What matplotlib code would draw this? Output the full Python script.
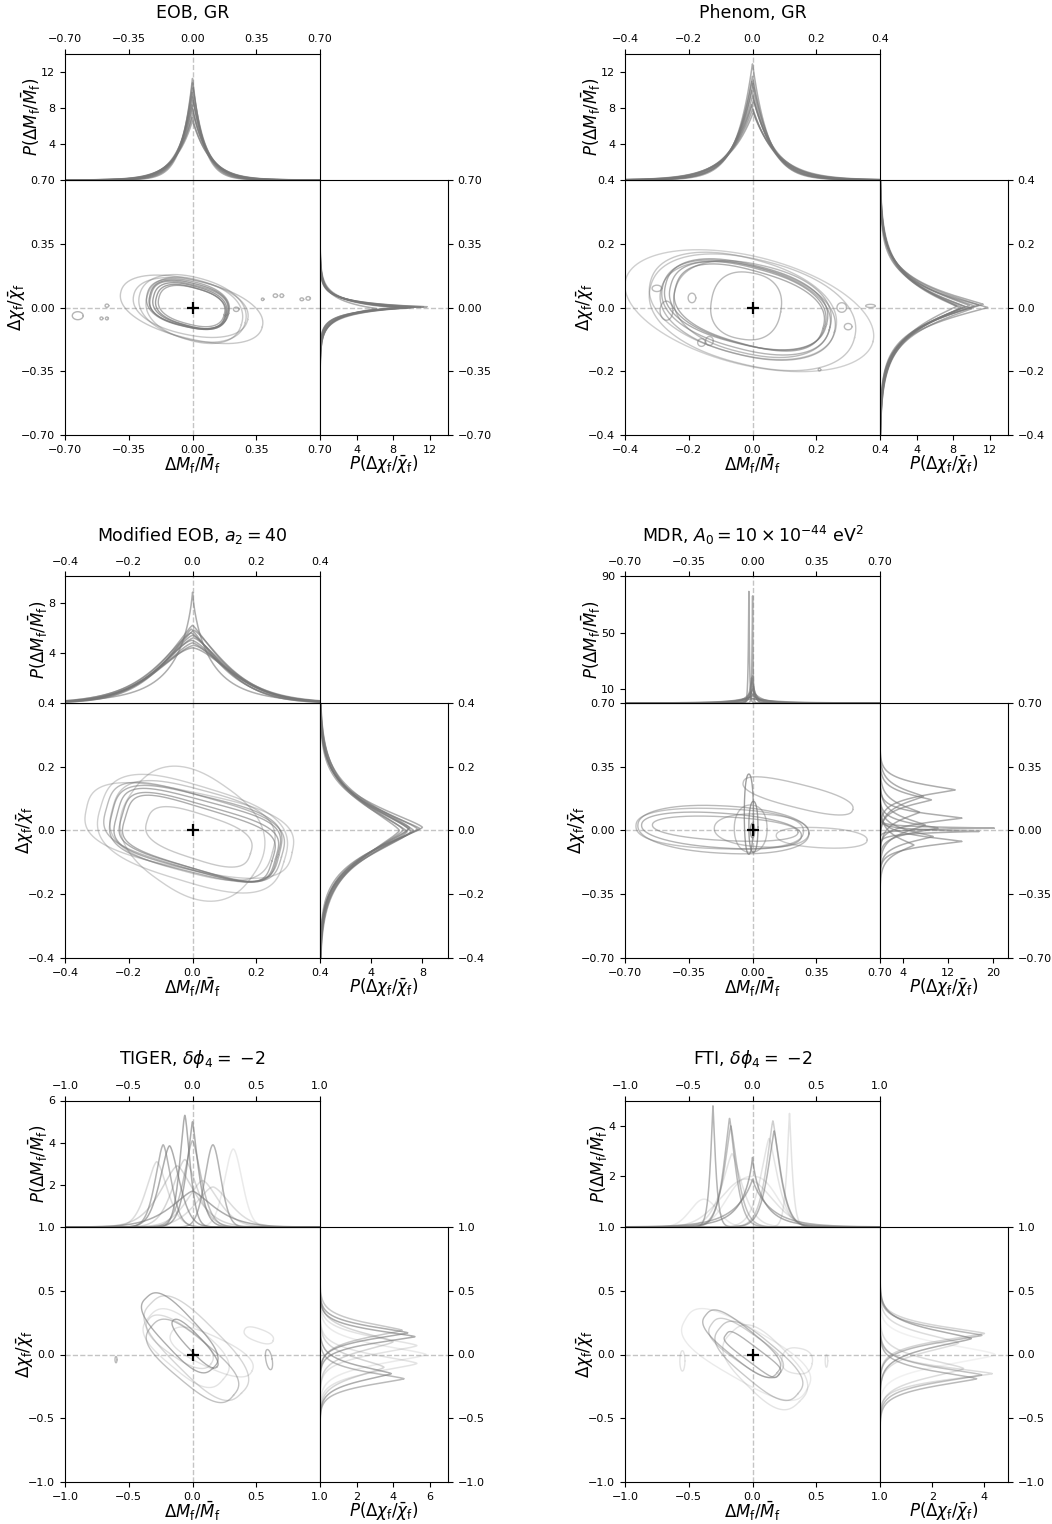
import matplotlib.pyplot as plt
import numpy as np

W, H = 1052, 1524

# ---------------- data ----------------
titles = ["EOB, GR", "Phenom, GR", r"Modified EOB, $a_2 = 40$",
          r"MDR, $A_0 = 10 \times 10^{-44}$ eV$^2$",
          r"TIGER, $\delta\phi_4 =$ $-2$", r"FTI, $\delta\phi_4 =$ $-2$"]
lims = [0.7, 0.4, 0.4, 0.7, 1.0, 1.0]
main_ticks = [[-0.7, -0.35, 0, 0.35, 0.7], [-0.4, -0.2, 0, 0.2, 0.4],
              [-0.4, -0.2, 0, 0.2, 0.4], [-0.7, -0.35, 0, 0.35, 0.7],
              [-1, -0.5, 0, 0.5, 1], [-1, -0.5, 0, 0.5, 1]]
top_ymax = [14.1, 14.1, 10.1, 90, 6, 5.0]
top_yticks = [[4, 8, 12], [4, 8, 12], [4, 8], [10, 50, 90], [2, 4, 6], [2, 4]]
right_xmax = [14, 14, 10, 22.6, 7, 4.9]
right_xticks = [[4, 8, 12], [4, 8, 12], [4, 8], [4, 12, 20], [2, 4, 6], [2, 4]]

# marginal peaks: (location, peak height, width, shape power)
eob_top = [(0.000, 11.4, 0.060, 1.0), (0.000, 10.9, 0.065, 1.0), (0.003, 10.3, 0.070, 1.0),
           (-0.003, 9.8, 0.072, 1.0), (0.000, 9.3, 0.078, 1.0), (0.004, 8.9, 0.080, 1.0),
           (-0.004, 8.4, 0.085, 1.0), (0.000, 8.0, 0.088, 1.0), (0.002, 7.5, 0.092, 1.0),
           (-0.002, 7.0, 0.095, 1.0), (0.000, 6.6, 0.100, 1.0)]
eob_right = [(0.004, 11.9, 0.028, 0.85), (0.003, 11.2, 0.030, 0.85), (0.002, 10.6, 0.032, 0.85),
             (0.000, 10.2, 0.034, 0.85), (-0.002, 9.8, 0.036, 0.85), (0.004, 11.5, 0.029, 0.85),
             (-0.004, 9.4, 0.038, 0.85), (0.001, 8.8, 0.040, 0.85), (-0.006, 6.2, 0.050, 0.95),
             (0.000, 10.0, 0.035, 0.85)]
phen_top = [(0.000, 13.0, 0.050, 1.0), (0.000, 11.6, 0.055, 1.0), (0.002, 10.8, 0.058, 1.0),
            (-0.002, 10.0, 0.062, 1.0), (0.000, 9.4, 0.066, 1.0), (0.003, 8.9, 0.070, 1.0),
            (-0.003, 8.4, 0.072, 1.0), (0.000, 7.9, 0.076, 1.0), (0.002, 7.5, 0.080, 1.0),
            (-0.002, 11.0, 0.056, 1.0)]
phen_right = [(0.010, 11.3, 0.075, 1.1), (0.008, 10.8, 0.078, 1.1), (0.005, 10.3, 0.080, 1.1),
              (0.000, 11.8, 0.072, 1.1), (0.006, 9.8, 0.083, 1.1), (0.002, 9.3, 0.086, 1.1),
              (-0.002, 8.8, 0.090, 1.1), (0.004, 8.4, 0.092, 1.1), (-0.004, 10.0, 0.082, 1.1),
              (0.000, 9.0, 0.088, 1.1)]
meob_top = [(0.000, 9.0, 0.060, 0.75), (0.000, 6.2, 0.140, 1.2), (0.005, 5.8, 0.145, 1.3),
            (-0.005, 5.6, 0.150, 1.3), (0.000, 5.4, 0.140, 1.4), (0.003, 5.2, 0.155, 1.4),
            (-0.003, 5.0, 0.150, 1.5), (0.000, 4.8, 0.160, 1.4), (0.004, 4.6, 0.165, 1.5),
            (-0.004, 5.9, 0.130, 1.2), (0.000, 4.4, 0.170, 1.6)]
meob_right = [(0.010, 8.0, 0.100, 1.3), (0.005, 7.6, 0.105, 1.3), (0.000, 7.3, 0.110, 1.3),
              (0.008, 7.0, 0.115, 1.3), (-0.004, 6.8, 0.115, 1.3), (0.002, 6.5, 0.120, 1.3),
              (0.006, 7.8, 0.100, 1.2), (-0.002, 7.1, 0.110, 1.4), (0.000, 6.2, 0.125, 1.3),
              (0.004, 6.9, 0.112, 1.35)]
mdr_top = [(-0.020, 81.0, 0.004, 1.0), (0.000, 89.0, 0.003, 1.0), (0.000, 20.0, 0.012, 1.0),
           (-0.005, 18.0, 0.015, 1.0), (0.005, 12.0, 0.020, 1.0), (0.000, 10.0, 0.030, 1.0),
           (-0.010, 8.0, 0.040, 1.0), (0.010, 7.0, 0.050, 1.0), (0.000, 5.0, 0.080, 1.0),
           (-0.020, 4.0, 0.100, 1.0), (0.000, 3.0, 0.150, 1.0)]
mdr_right = [(0.223, 13.3, 0.050, 1.2), (0.168, 9.1, 0.050, 1.2), (0.187, 7.7, 0.060, 1.2),
             (0.068, 14.5, 0.040, 1.2), (0.013, 21.2, 0.008, 1.0), (-0.005, 17.7, 0.012, 1.0),
             (0.013, 10.3, 0.040, 1.2), (-0.060, 14.5, 0.040, 1.2), (-0.033, 9.4, 0.050, 1.2),
             (0.100, 7.0, 0.060, 1.2), (0.030, 8.0, 0.060, 1.2), (-0.080, 6.0, 0.060, 1.2)]
tiger_top = [(-0.060, 5.3, 0.060, 1.5), (0.000, 5.0, 0.070, 1.3), (-0.230, 3.9, 0.090, 1.6),
             (-0.180, 3.85, 0.110, 1.6), (0.160, 3.9, 0.090, 1.8), (0.000, 4.1, 0.100, 1.5),
             (-0.060, 3.2, 0.140, 1.6), (-0.280, 3.1, 0.120, 1.6), (0.080, 2.2, 0.180, 1.6),
             (0.000, 1.7, 0.250, 1.4), (0.320, 3.7, 0.100, 1.8), (0.160, 1.9, 0.200, 1.6),
             (-0.120, 2.9, 0.200, 1.5)]
tiger_right = [(0.170, 4.8, 0.080, 1.3), (0.140, 5.2, 0.080, 1.3), (0.190, 4.5, 0.090, 1.3),
               (0.070, 5.3, 0.100, 1.4), (0.000, 5.8, 0.110, 1.4), (-0.070, 5.3, 0.100, 1.4),
               (-0.150, 3.9, 0.090, 1.3), (-0.190, 4.6, 0.080, 1.3), (0.100, 4.0, 0.110, 1.4),
               (-0.100, 3.5, 0.110, 1.4)]
fti_top = [(-0.310, 4.8, 0.030, 1.2), (-0.180, 4.3, 0.070, 1.3), (-0.170, 4.0, 0.080, 1.3),
           (0.160, 4.2, 0.080, 1.3), (0.170, 3.8, 0.080, 1.3), (0.290, 4.5, 0.030, 1.2),
           (0.000, 2.8, 0.090, 0.8), (0.000, 1.9, 0.150, 0.9), (-0.160, 2.9, 0.120, 1.4),
           (0.130, 3.5, 0.100, 1.4), (0.000, 2.0, 0.250, 2.5), (-0.380, 1.1, 0.150, 2.0),
           (-0.050, 1.9, 0.280, 2.0)]
fti_right = [(0.165, 4.0, 0.090, 1.3), (0.150, 3.9, 0.090, 1.3), (0.125, 3.5, 0.110, 1.3),
             (0.000, 4.4, 0.120, 1.5), (-0.160, 3.9, 0.090, 1.3), (-0.190, 3.7, 0.090, 1.3),
             (-0.110, 3.2, 0.110, 1.4), (0.090, 3.0, 0.110, 1.4), (-0.150, 4.3, 0.080, 1.3)]

# credible-region contours: (cx, cy, semi-axis a, semi-axis b, angle deg, squareness)
eob_cont = [(-0.020, 0.015, 0.220, 0.120, -14, 2.6), (-0.015, 0.010, 0.205, 0.110, -15, 2.6),
            (-0.025, 0.020, 0.230, 0.125, -13, 2.4), (-0.010, 0.005, 0.195, 0.105, -16, 2.6),
            (-0.020, 0.012, 0.215, 0.115, -14, 2.8), (-0.005, 0.008, 0.185, 0.100, -15, 2.5),
            (-0.005, -0.010, 0.400, 0.160, -14, 2.2), (0.000, -0.005, 0.300, 0.170, -15, 2.2),
            (0.010, -0.015, 0.270, 0.165, -17, 2.3), (-0.010, 0.000, 0.320, 0.150, -12, 2.2),
            (-0.630, -0.045, 0.030, 0.022, 0, 2), (-0.470, 0.010, 0.010, 0.009, 0, 2),
            (-0.500, -0.060, 0.008, 0.008, 0, 2), (-0.470, -0.060, 0.008, 0.008, 0, 2),
            (0.385, 0.045, 0.007, 0.007, 0, 2), (0.455, 0.065, 0.012, 0.010, 0, 2),
            (0.490, 0.065, 0.010, 0.010, 0, 2), (0.635, 0.050, 0.012, 0.010, 0, 2),
            (0.600, 0.045, 0.010, 0.008, 0, 2), (0.240, -0.010, 0.015, 0.012, 0, 2)]
phen_cont = [(-0.015, 0.005, 0.250, 0.120, -15, 2.4), (-0.020, 0.010, 0.260, 0.125, -14, 2.4),
             (-0.010, 0.000, 0.240, 0.115, -16, 2.5), (-0.020, 0.000, 0.270, 0.130, -15, 2.3),
             (0.000, -0.005, 0.250, 0.140, -13, 2.3), (-0.015, -0.010, 0.280, 0.140, -14, 2.2),
             (-0.030, 0.005, 0.300, 0.150, -15, 2.2), (0.000, -0.015, 0.330, 0.165, -14, 2.2),
             (-0.010, -0.010, 0.400, 0.170, -14, 2.0), (-0.020, 0.005, 0.110, 0.105, -10, 2.4),
             (-0.270, -0.010, 0.020, 0.030, 0, 2), (-0.190, 0.030, 0.012, 0.015, 0, 2),
             (-0.160, -0.110, 0.012, 0.012, 0, 2), (-0.135, -0.105, 0.012, 0.014, 0, 2),
             (0.280, 0.000, 0.015, 0.015, 0, 2), (0.300, -0.060, 0.012, 0.010, 0, 2),
             (0.210, -0.195, 0.004, 0.004, 0, 2), (0.370, 0.005, 0.015, 0.005, 0, 2),
             (-0.300, 0.060, 0.015, 0.010, 0, 2)]
meob_cont = [(0.015, -0.015, 0.260, 0.110, -15, 4.0), (0.020, -0.020, 0.250, 0.100, -16, 4.0),
             (0.010, -0.010, 0.270, 0.120, -14, 3.5), (0.020, -0.025, 0.240, 0.095, -17, 4.0),
             (0.000, 0.000, 0.260, 0.130, -15, 3.0), (0.000, -0.010, 0.300, 0.150, -17, 3.0),
             (-0.010, 0.000, 0.330, 0.120, -12, 3.0), (0.020, -0.020, 0.170, 0.070, -18, 3.0),
             (0.000, -0.010, 0.230, 0.180, -35, 2.5), (0.005, -0.005, 0.285, 0.115, -16, 3.5)]
mdr_cont = [(-0.160, 0.005, 0.470, 0.130, -3, 2.2), (-0.170, 0.000, 0.440, 0.095, -4, 2.2),
            (-0.150, 0.010, 0.400, 0.065, -3, 2.2), (-0.180, 0.010, 0.460, 0.110, -2, 2.4),
            (0.250, 0.190, 0.310, 0.065, -14, 2.5), (0.380, -0.040, 0.250, 0.055, -3, 2.2),
            (-0.020, 0.090, 0.025, 0.220, 0, 2.2), (0.005, 0.020, 0.025, 0.140, 0, 2.2),
            (0.000, 0.000, 0.012, 0.040, 0, 2.0), (-0.010, 0.010, 0.090, 0.130, 0, 2.2),
            (0.050, 0.000, 0.260, 0.090, -3, 2.2)]
tiger_cont = [(-0.100, 0.170, 0.380, 0.140, -47, 3.0), (0.020, 0.085, 0.250, 0.060, -47, 2.5),
              (0.030, 0.050, 0.500, 0.200, -45, 3.0), (0.000, -0.050, 0.420, 0.170, -40, 3.0),
              (0.150, 0.020, 0.350, 0.120, -25, 2.5), (0.520, 0.150, 0.120, 0.050, -20, 2.5),
              (0.600, -0.040, 0.025, 0.080, 10, 2.0), (-0.600, -0.040, 0.008, 0.025, 0, 2.0),
              (-0.050, 0.050, 0.380, 0.180, -40, 3.0), (-0.100, 0.100, 0.300, 0.120, -35, 2.5)]
fti_cont = [(-0.085, 0.085, 0.360, 0.120, -39, 3.0), (0.000, 0.000, 0.260, 0.060, -37, 4.0),
            (-0.050, 0.000, 0.550, 0.200, -30, 3.0), (0.050, -0.050, 0.400, 0.160, -40, 3.0),
            (-0.050, 0.050, 0.330, 0.120, -35, 3.0), (0.350, -0.050, 0.120, 0.100, -10, 2.5),
            (-0.550, -0.050, 0.020, 0.080, 0, 2.0), (0.580, -0.050, 0.010, 0.050, 0, 2.0),
            (0.100, -0.100, 0.380, 0.200, -45, 3.0)]

# line transparency per curve
eob_cont_alpha = [0.7, 0.7, 0.6, 0.7, 0.6, 0.6, 0.4, 0.4, 0.4, 0.4] + [0.55] * 10
phen_cont_alpha = [0.6, 0.6, 0.6, 0.55, 0.5, 0.5, 0.4, 0.4, 0.35, 0.5] + [0.5] * 9
meob_cont_alpha = [0.6, 0.6, 0.55, 0.6, 0.4, 0.35, 0.35, 0.4, 0.35, 0.5]
mdr_cont_alpha = [0.5, 0.55, 0.5, 0.45, 0.45, 0.4, 0.7, 0.7, 0.7, 0.45, 0.45]
tiger_cont_alpha = [0.6, 0.6, 0.3, 0.45, 0.2, 0.2, 0.5, 0.5, 0.2, 0.25]
fti_cont_alpha = [0.5, 0.55, 0.15, 0.4, 0.35, 0.2, 0.2, 0.2, 0.2]
tiger_top_alpha = [0.6, 0.6, 0.55, 0.6, 0.55, 0.45, 0.3, 0.25, 0.25, 0.6, 0.15, 0.25, 0.3]
tiger_right_alpha = [0.6, 0.6, 0.4, 0.2, 0.15, 0.2, 0.6, 0.5, 0.3, 0.3]
fti_top_alpha = [0.55, 0.5, 0.45, 0.35, 0.55, 0.2, 0.6, 0.55, 0.2, 0.2, 0.15, 0.15, 0.2]
fti_right_alpha = [0.3, 0.5, 0.6, 0.1, 0.45, 0.5, 0.25, 0.25, 0.25]

tops = [eob_top, phen_top, meob_top, mdr_top, tiger_top, fti_top]
rights = [eob_right, phen_right, meob_right, mdr_right, tiger_right, fti_right]
conts = [eob_cont, phen_cont, meob_cont, mdr_cont, tiger_cont, fti_cont]
top_alphas = [None, None, None, None, tiger_top_alpha, fti_top_alpha]
right_alphas = [None, None, None, None, tiger_right_alpha, fti_right_alpha]
cont_alphas = [eob_cont_alpha, phen_cont_alpha, meob_cont_alpha, mdr_cont_alpha,
               tiger_cont_alpha, fti_cont_alpha]

# ---------------- layout (pixels) ----------------
col_x = [65, 625]
row_y = [180, 703, 1227]
S = 255
TOPH = 126.5
RW = 128

xlab = r"$\Delta M_\mathrm{f}/\bar{M}_\mathrm{f}$"
ylab = r"$\Delta\chi_\mathrm{f}/\bar{\chi}_\mathrm{f}$"
ptop = r"$P(\Delta M_\mathrm{f}/\bar{M}_\mathrm{f})$"
pright = r"$P(\Delta\chi_\mathrm{f}/\bar{\chi}_\mathrm{f})$"

LC = "#777777"
DASH = "#c4c4c4"


def box(x, y, w, h):
    return [x / W, 1 - (y + h) / H, w / W, h / H]


def peak(grid, loc, h, w, p):
    return h * np.exp(-np.abs((grid - loc) / w) ** p)


def superellipse(cx, cy, a, b, ang, n):
    t = np.linspace(0, 2 * np.pi, 500)
    c, s = np.cos(t), np.sin(t)
    u = a * np.sign(c) * np.abs(c) ** (2 / n)
    v = b * np.sign(s) * np.abs(s) ** (2 / n)
    th = np.radians(ang)
    return cx + u * np.cos(th) - v * np.sin(th), cy + u * np.sin(th) + v * np.cos(th)


plt.rcParams["font.size"] = 8
fig = plt.figure(figsize=(W / 100, H / 100), dpi=100)

for k in range(6):
    x0 = col_x[k % 2]
    y0 = row_y[k // 2]
    L = lims[k]
    grid = np.linspace(-L, L, 1500)

    ax = fig.add_axes(box(x0, y0, S, S))
    axt = fig.add_axes(box(x0, y0 - TOPH, S, TOPH))
    axr = fig.add_axes(box(x0 + S, y0, RW, S))

    # main panel
    for c, al in zip(conts[k], cont_alphas[k]):
        xs, ys = superellipse(*c)
        ax.plot(xs, ys, color=LC, lw=1.0, alpha=al)
    ax.axhline(0, color=DASH, ls="--", lw=1, zorder=0)
    ax.axvline(0, color=DASH, ls="--", lw=1, zorder=0)
    ax.plot(0, 0, "k+", ms=8, mew=1.6)
    ax.set_xlim(-L, L)
    ax.set_ylim(-L, L)
    ax.set_xticks(main_ticks[k])
    ax.set_yticks(main_ticks[k])
    ax.set_xlabel(xlab, fontsize=12, va="center")
    ax.xaxis.set_label_coords(0.5, -29 / S)
    ax.set_ylabel(ylab, fontsize=12, va="center")
    ax.yaxis.set_label_coords(-0.188 if L == 0.7 else -0.157, 0.5)

    # top marginal
    al_t = top_alphas[k] or [0.6] * len(tops[k])
    for (loc, h, w, p), al in zip(tops[k], al_t):
        axt.plot(grid, peak(grid, loc, h, w, p), color=LC, lw=1.1, alpha=al)
    axt.axvline(0, color=DASH, ls="--", lw=1, zorder=0)
    axt.set_xlim(-L, L)
    axt.set_ylim(0, top_ymax[k])
    axt.set_yticks(top_yticks[k])
    axt.set_xticks(main_ticks[k])
    axt.xaxis.tick_top()
    axt.set_ylabel(ptop, fontsize=12, va="center")
    axt.yaxis.set_label_coords(-0.133 if max(top_yticks[k]) >= 10 else -0.106, 0.5)

    # right marginal
    al_r = right_alphas[k] or [0.6] * len(rights[k])
    for (loc, h, w, p), al in zip(rights[k], al_r):
        axr.plot(peak(grid, loc, h, w, p), grid, color=LC, lw=1.1, alpha=al)
    axr.axhline(0, color=DASH, ls="--", lw=1, zorder=0)
    axr.set_ylim(-L, L)
    axr.set_xlim(0, right_xmax[k])
    axr.set_xticks(right_xticks[k])
    axr.set_yticks(main_ticks[k])
    axr.yaxis.tick_right()
    axr.set_xlabel(pright, fontsize=12, va="center")
    axr.xaxis.set_label_coords(0.5, -29 / S)

    fig.text((x0 + S / 2) / W, 1 - (y0 - TOPH - 41) / H, titles[k],
             ha="center", va="center", fontsize=12.5)

fig.savefig("out.png", dpi=100)
